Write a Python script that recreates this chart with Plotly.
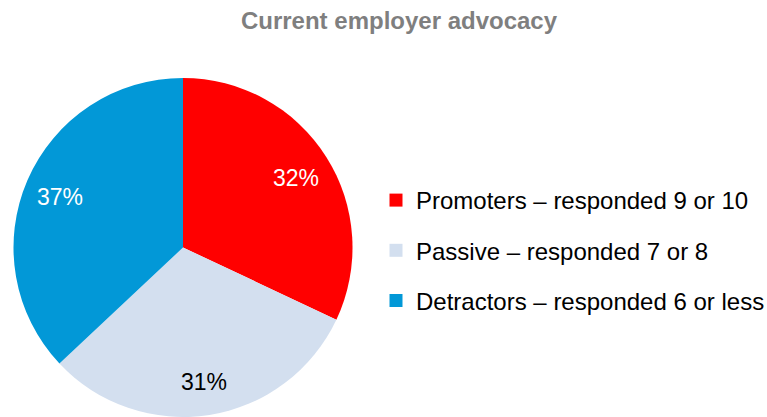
import math
import plotly.graph_objects as go

# Survey breakdown: would respondents recommend their current employer?
categories = [
    "Promoters – responded 9 or 10",
    "Passive – responded 7 or 8",
    "Detractors – responded 6 or less",
]
shares = [32, 31, 37]
slice_colors = ["#FF0000", "#D3DFEF", "#0298D7"]
label_colors = ["#FFFFFF", "#000000", "#FFFFFF"]

W, H = 767, 417
FONT = "Liberation Sans, Arial, sans-serif"

# Pie placement (pixels) and where the value labels sit along each slice's mid-angle
CX, CY, R = 183.0, 247.5, 169.5
LABEL_RADIUS = 0.79

fig = go.Figure()

fig.add_trace(go.Pie(
    labels=categories,
    values=shares,
    sort=False,
    direction="clockwise",
    rotation=0,
    marker=dict(colors=slice_colors, line=dict(width=0)),
    textinfo="none",
    hoverinfo="label+percent",
    showlegend=False,
    domain=dict(x=[(CX - R) / W, (CX + R) / W], y=[0.0, 2 * R / H]),
))

# Value labels placed along each slice's bisector, towards the rim
total = sum(shares)
cum = 0.0
for value, color in zip(shares, label_colors):
    mid = 2 * math.pi * (cum + value / 2) / total
    cum += value
    px = CX + LABEL_RADIUS * R * math.sin(mid)
    py = CY - LABEL_RADIUS * R * math.cos(mid) + 2.5
    fig.add_annotation(
        x=px / W, y=1 - py / H, xref="paper", yref="paper",
        text=f"{value}%", showarrow=False,
        xanchor="center", yanchor="middle",
        font=dict(family=FONT, size=23, color=color),
    )

# Legend entries, one group per category so the rows can be spaced apart
for name, color in zip(categories, slice_colors):
    fig.add_trace(go.Scatter(
        x=[None], y=[None],
        mode="markers",
        name=name,
        legendgroup=name,
        marker=dict(symbol="square", size=13, color=color),
        hoverinfo="skip",
    ))

fig.update_layout(
    width=W,
    height=H,
    margin=dict(l=0, r=0, t=0, b=0, autoexpand=False),
    paper_bgcolor="white",
    plot_bgcolor="white",
    font=dict(family=FONT, color="#000000"),
    title=dict(
        text="<b>Current employer advocacy</b>",
        x=399 / W,
        xanchor="center",
        y=1 - 29 / H,
        yanchor="bottom",
        font=dict(family=FONT, size=24, color="#7F7F7F"),
    ),
    xaxis=dict(visible=False),
    yaxis=dict(visible=False),
    legend=dict(
        x=376 / W,
        xanchor="left",
        y=1 - 178 / H,
        yanchor="top",
        font=dict(family=FONT, size=24, color="#000000"),
        tracegroupgap=16,
        entrywidth=300,
        bgcolor="rgba(0,0,0,0)",
    ),
)

fig.write_html("out.html")
